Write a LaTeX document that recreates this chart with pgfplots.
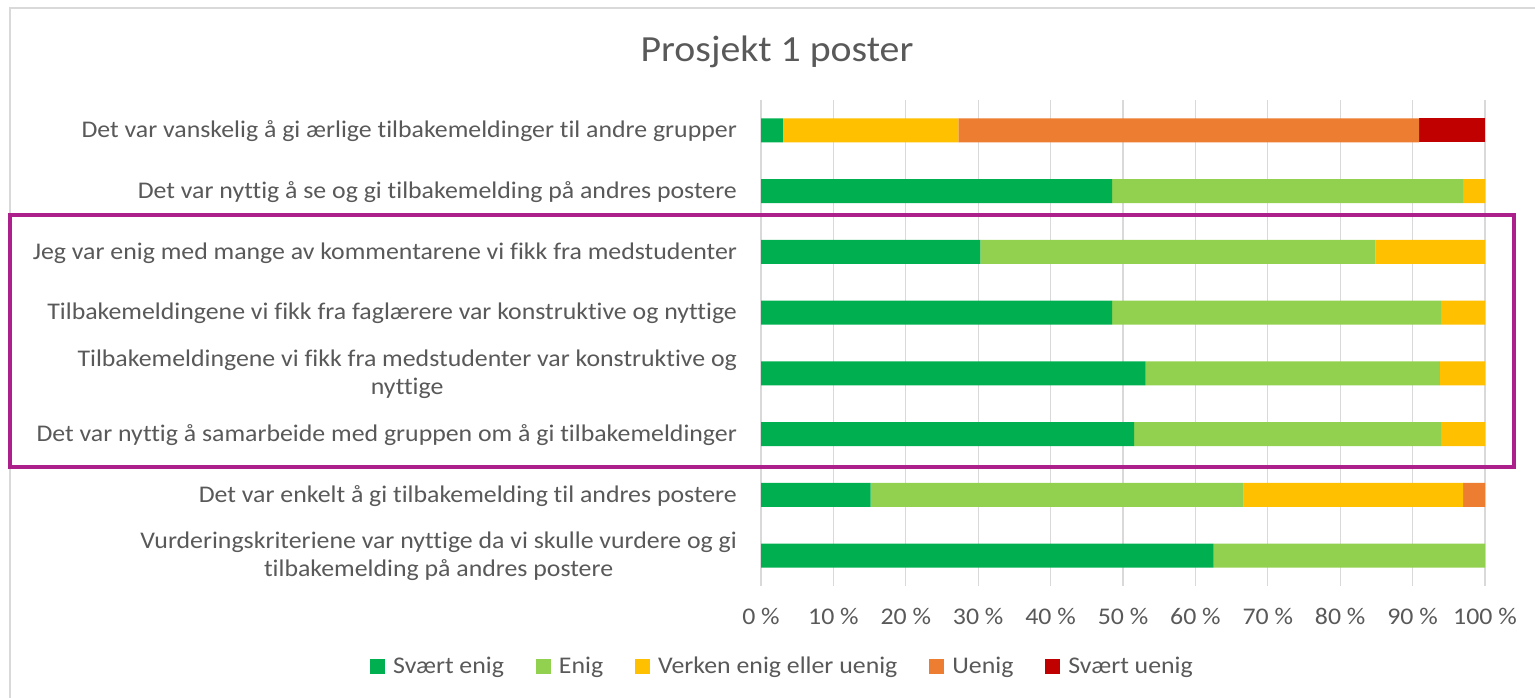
\documentclass[border=0pt]{standalone}
\usepackage{pgfplots}
\pgfplotsset{compat=1.18}
\usepackage{pgfplotstable}
\usepackage{fontspec}
\setmainfont{Carlito}[FakeStretch=1.08, Ligatures=NoCommon]
\definecolor{c1}{HTML}{00B050}
\definecolor{c2}{HTML}{92D050}
\definecolor{c3}{HTML}{FFC000}
\definecolor{c4}{HTML}{ED7D31}
\definecolor{c5}{HTML}{C00000}
\definecolor{textgray}{HTML}{595959}
\definecolor{gridgray}{HTML}{D9D9D9}
\definecolor{boxpurple}{RGB}{172,32,140}

\pgfplotstableread{
y se e v u su
0 3.03 0 24.24 63.64 9.09
1 48.48 48.49 3.03 0 0
2 30.30 54.55 15.15 0 0
3 48.48 45.46 6.06 0 0
4 53.12 40.63 6.25 0 0
5 51.52 42.42 6.06 0 0
6 15.15 51.52 30.30 3.03 0
7 62.50 37.50 0 0 0
}\datatable

\begin{document}
\begin{tikzpicture}
\useasboundingbox (0bp,0bp) rectangle (1535bp,698bp);
\fill[white] (0bp,0bp) rectangle (1535bp,698bp);
\draw[gridgray, line width=1.2bp] (10bp,0bp) -- (10bp,690bp) -- (1540bp,690bp);
\node[text=textgray, font=\fontsize{37}{44}\selectfont] at (777bp,646bp) {Prosjekt 1 poster};
\begin{axis}[
  at={(761bp,112bp)}, anchor=south west,
  scale only axis, width=724bp, height=486bp,
  xbar stacked, bar width=24bp,
  xmin=0, xmax=100, ymin=-0.5, ymax=7.5, y dir=reverse,
  xtick={0,10,...,100},
  xticklabels={0 \%,10 \%,20 \%,30 \%,40 \%,50 \%,60 \%,70 \%,80 \%,90 \%,100 \%},
  ytick={0,...,7},
  yticklabels={
    {Det var vanskelig å gi ærlige tilbakemeldinger til andre grupper},
    {Det var nyttig å se og gi tilbakemelding på andres postere},
    {Jeg var enig med mange av kommentarene vi fikk fra medstudenter},
    {Tilbakemeldingene vi fikk fra faglærere var konstruktive og nyttige},
    {Tilbakemeldingene vi fikk fra medstudenter var konstruktive og\\nyttige},
    {Det var nyttig å samarbeide med gruppen om å gi tilbakemeldinger},
    {Det var enkelt å gi tilbakemelding til andres postere},
    {Vurderingskriteriene var nyttige da vi skulle vurdere og gi\\tilbakemelding på andres postere}},
  axis line style={draw=none},
  major tick length=0pt,
  xmajorgrids, grid style={color=gridgray, line width=1.2bp},
  tick label style={font=\fontsize{24}{28}\selectfont, text=textgray},
  yticklabel style={align=center, inner sep=0pt, xshift=-24bp, yshift=-1bp},
  xticklabel style={inner sep=0pt, yshift=-22bp},
  legend columns=5,
  legend style={at={(rel axis cs:0.0297,-0.1650)}, anchor=center, draw=none, fill=none,
    font=\fontsize{24}{27}\selectfont, text=textgray,
    /tikz/every odd column/.append style={column sep=6bp},
    /tikz/every even column/.append style={column sep=30bp}},
  legend image code/.code={\fill[#1] (0bp,-7.5bp) rectangle (15bp,7.5bp);},
]
\addplot[fill=c1, draw=none] table[x=se, y=y] {\datatable};
\addplot[fill=c2, draw=none] table[x=e, y=y] {\datatable};
\addplot[fill=c3, draw=none] table[x=v, y=y] {\datatable};
\addplot[fill=c4, draw=none] table[x=u, y=y] {\datatable};
\addplot[fill=c5, draw=none] table[x=su, y=y] {\datatable};
\legend{Svært enig, Enig, Verken enig eller uenig, Uenig, Svært uenig}
\end{axis}
\draw[boxpurple, line width=4bp] (10bp,231bp) rectangle (1514bp,483bp);
\end{tikzpicture}
\end{document}
